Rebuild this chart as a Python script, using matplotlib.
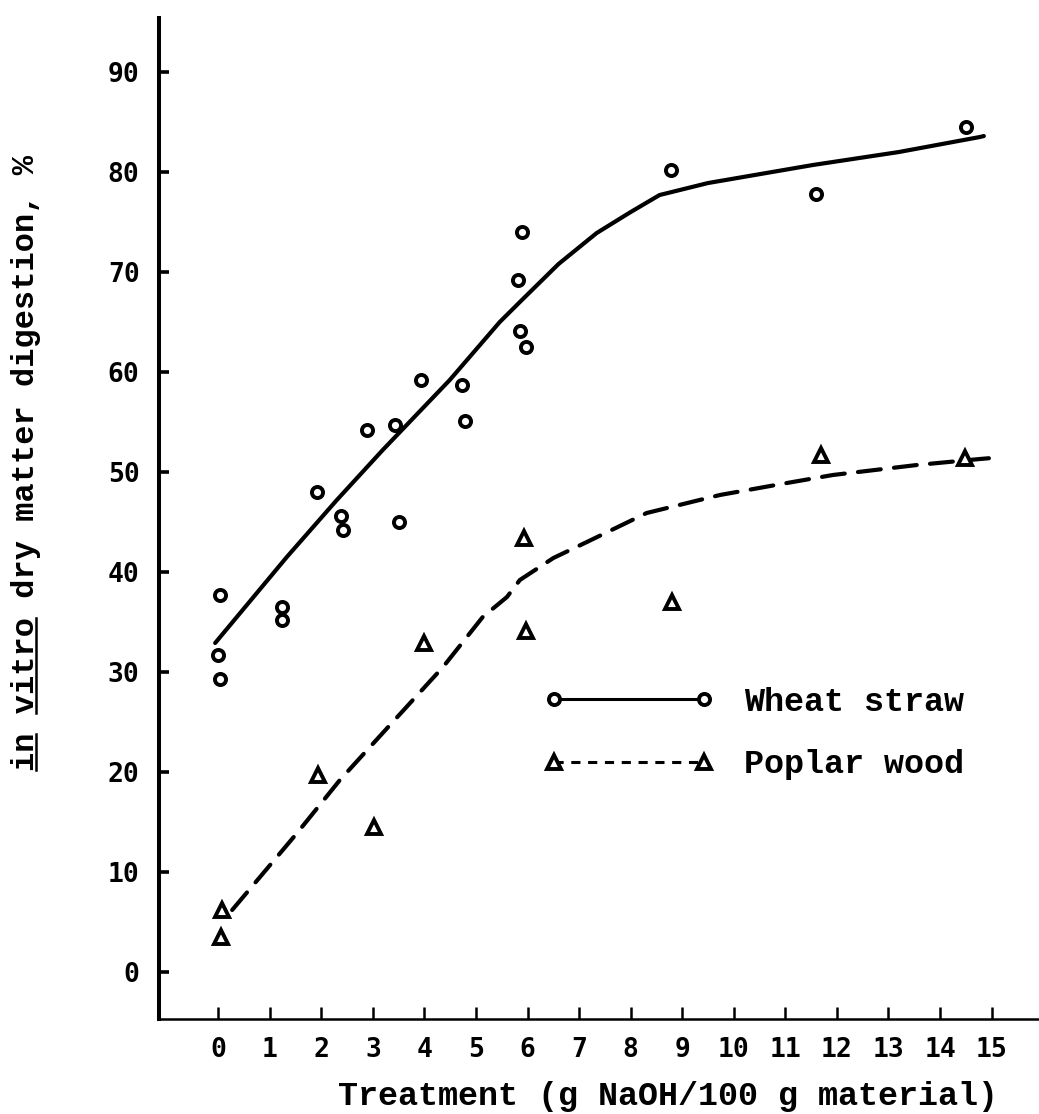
import matplotlib
matplotlib.use("Agg")
import matplotlib.pyplot as plt
from matplotlib.font_manager import FontProperties
from matplotlib.lines import Line2D

# measured points (g NaOH / 100 g material, % IVDMD)
wheat_x = [0.03, 0.0, 0.03, 1.23, 1.23, 1.91, 2.38, 2.42, 3.5, 2.88, 3.43, 3.93,
           4.73, 4.78, 5.89, 5.81, 5.85, 5.97, 8.78, 11.59, 14.5]
wheat_y = [37.7, 31.7, 29.3, 36.5, 35.2, 48.0, 45.6, 44.2, 45.0, 54.2, 54.7, 59.2,
           58.7, 55.1, 74.0, 69.2, 64.1, 62.5, 80.2, 77.8, 84.5]

poplar_x = [0.07, 0.05, 1.93, 3.02, 3.99, 5.93, 5.97, 8.8, 11.69, 14.48]
poplar_y = [6.2, 3.5, 19.7, 14.5, 32.9, 43.4, 34.1, 37.0, 51.7, 51.4]

# hand drawn response curves
wheat_fit_x = [-0.06, 1.33, 2.3, 3.19, 4.49, 5.46, 5.85, 6.6, 7.34, 8.0, 8.56,
               9.5, 11.53, 13.2, 14.77, 14.85]
wheat_fit_y = [32.9, 41.5, 47.2, 52.2, 59.2, 65.0, 67.0, 70.8, 73.9, 76.0, 77.7,
               78.9, 80.7, 82.0, 83.5, 83.6]

poplar_fit_x = [0.27, 0.81, 1.53, 2.36, 3.19, 4.36, 5.13, 5.6, 5.85, 6.5, 7.15,
                8.31, 9.73, 11.03, 11.92, 13.55, 14.77, 15.0]
poplar_fit_y = [6.2, 9.5, 13.9, 19.2, 23.9, 30.5, 35.5, 37.5, 39.2, 41.4, 43.0,
                45.9, 47.7, 48.9, 49.7, 50.7, 51.3, 51.4]

x_ticks = list(range(16))
y_ticks = list(range(0, 100, 10))

ylabel_text = 'in vitro dry matter digestion, %'
underlined = [(0, 2), (3, 8)]   # character spans of "in" and "vitro"

label_font = dict(family='Liberation Mono', size=24, weight='bold')
ylabel_font = dict(family='Liberation Mono', size=23, weight='bold')
tick_font = dict(family='DejaVu Sans Mono', size=19, weight='bold')

fig = plt.figure(figsize=(10.39, 11.14), dpi=100)
ax = fig.add_axes([0.153, 0.0853, 0.847, 0.8985])

ax.plot(wheat_fit_x, wheat_fit_y, color='black', lw=3.0, solid_capstyle='round',
        solid_joinstyle='round')
ax.plot(poplar_fit_x, poplar_fit_y, color='black', lw=3.0, dashes=(5.5, 3.2),
        dash_capstyle='round')
ax.plot(wheat_x, wheat_y, 'o', ms=8, mfc='white', mec='black', mew=2.8)
ax.plot(poplar_x, poplar_y, '^', ms=10, mfc='white', mec='black', mew=2.8)

ax.set_xlim(-1.15, 15.92)
ax.set_ylim(-4.7, 95.4)

ax.spines['top'].set_visible(False)
ax.spines['right'].set_visible(False)
ax.spines['left'].set_linewidth(2.9)
ax.spines['bottom'].set_linewidth(1.8)

ax.set_xticks(x_ticks)
ax.set_yticks(y_ticks)
ax.tick_params(axis='y', direction='in', length=7, width=2.6, pad=14)
ax.tick_params(axis='x', direction='in', length=9, width=1.8, pad=13)
for lab in ax.get_xticklabels() + ax.get_yticklabels():
    lab.set_fontproperties(FontProperties(**tick_font))

ax.set_xlabel('Treatment (g NaOH/100 g material)', **label_font)
ax.xaxis.set_label_coords(0.578, -0.062)
ylab = ax.set_ylabel(ylabel_text, **ylabel_font)
ax.yaxis.set_label_coords(-0.134, 0.555)

handles = [
    Line2D([], [], color='black', lw=2.2, marker='o', ms=8, mfc='white',
           mec='black', mew=2.8),
    Line2D([], [], color='black', lw=2.2, dashes=(3, 2.5), marker='^', ms=10,
           mfc='white', mec='black', mew=2.8),
]
ax.legend(handles, ['Wheat straw', 'Poplar wood'], loc='upper left',
          bbox_to_anchor=(0.437, 0.332), frameon=False, numpoints=2,
          handlelength=5.1, handletextpad=0.9, labelspacing=0.95,
          borderpad=0, borderaxespad=0, prop=FontProperties(**label_font))

# underline "in" and "vitro" in the rotated y label (monospaced font)
fig.canvas.draw()
bb = ylab.get_window_extent(fig.canvas.get_renderer())
step = bb.height / len(ylabel_text)
ux = bb.x1 - 5
W, H = fig.bbox.width, fig.bbox.height
for a, b in underlined:
    y0 = bb.y0 + a * step + 1
    y1 = bb.y0 + b * step - 1
    fig.add_artist(Line2D([ux / W, ux / W], [y0 / H, y1 / H], color='black',
                          lw=1.8, transform=fig.transFigure))

fig.savefig('out.png', dpi=100, facecolor='white')
